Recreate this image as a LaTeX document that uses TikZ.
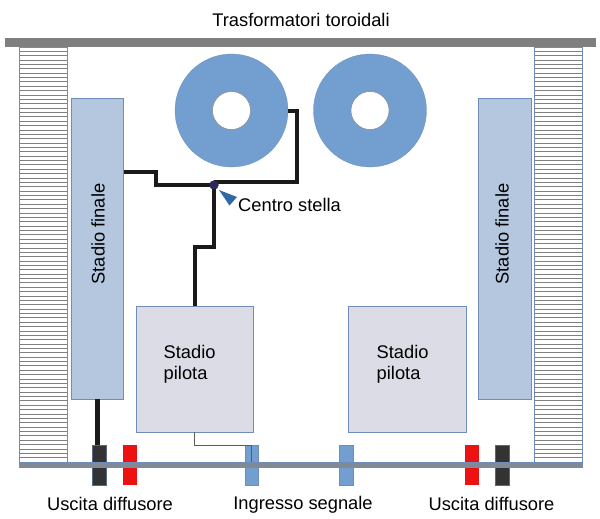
\documentclass[tikz,border=0pt]{standalone}
\usepackage{fontspec}
\setmainfont{Liberation Sans}
\definecolor{barg}{HTML}{7F7F7F}
\definecolor{edgeb}{HTML}{6F8DB8}
\definecolor{finalb}{HTML}{B4C7DE}
\definecolor{pilot}{HTML}{DCDCE6}
\definecolor{toro}{HTML}{729FCF}
\definecolor{wire}{HTML}{1A1A1A}
\definecolor{darkc}{HTML}{333333}
\definecolor{redc}{HTML}{EE1111}
\definecolor{arrowb}{HTML}{2F69A8}
\definecolor{rail}{HTML}{808A96}
\tikzset{
  x=1pt,y=-1pt,
  lab/.style={font=\fontsize{18.3}{21}\selectfont,text=black,inner sep=0pt},
  twolines/.style={lab,align=left,anchor=west,font=\fontsize{18.3}{21}\selectfont},
  thickwire/.style={draw=wire,line width=4.4pt,line join=miter},
  fin/.style={draw=black!50,line width=0.9pt},
  finalblock/.style={draw=edgeb,line width=0.7pt,fill=finalb,minimum height=301pt,inner sep=0pt,anchor=north west},
  pilotblock/.style={draw=edgeb,line width=0.7pt,fill=pilot,minimum height=126pt,inner sep=0pt,anchor=north west},
  ring/.style={circle,fill=toro,draw=edgeb,line width=0.3pt,minimum size=113pt,inner sep=0pt},
  hole/.style={circle,fill=white,draw=barg,line width=0.4pt,minimum size=38pt,inner sep=0pt},
  term/.style={minimum width=13.5pt,minimum height=40pt,inner sep=0pt,anchor=north west},
  darkterm/.style={term,fill=darkc,draw=edgeb!60!darkc,line width=0.4pt},
  redterm/.style={term,fill=redc},
  blueterm/.style={term,fill=toro,draw=edgeb,line width=0.4pt},
  stardot/.style={circle,fill=darkc!80!blue,minimum size=9pt,inner sep=0pt},
}
\begin{document}
\begin{tikzpicture}
\useasboundingbox (0,0) rectangle (600,519);
\fill[white] (0,0) rectangle (600,519);
% heat sinks
\foreach \xa/\xb in {19/67,534.5/582.5}{
  \foreach \i in {0,...,94}{
    \draw[fin] (\xa,{51.3+4.37*\i}) -- (\xb,{51.3+4.37*\i});
  }
  \draw[draw=edgeb,line width=0.8pt] (\xa,47) rectangle (\xb,464);
}
% top bar
\fill[barg] (5,38) rectangle (596,47);
% toroids
\node[ring] (t1) at (231.5,110.5) {};
\node[hole] (h1) at (231.5,110.5) {};
\node[ring] (t2) at (370,110.5) {};
\node[hole] (h2) at (370,110.5) {};
% blocks
\node[finalblock,minimum width=52pt] (f1) at (71,98) {};
\node[finalblock,minimum width=53pt] (f2) at (478,98) {};
\node[pilotblock,minimum width=117pt] (p1) at (136,306) {};
\node[pilotblock,minimum width=118pt] (p2) at (348,306) {};
% star centre
\node[stardot] (star) at (214,185) {};
\coordinate (a1) at (123.5,172);
\coordinate (a2) at (288,111);
\coordinate (a3) at (195,306);
\coordinate (a4) at (97.5,399);
\coordinate (a5) at (97.5,445);
\draw[thickwire] (a1) -- (156,172) -- (156,185) -- (star.center);
\draw[thickwire] (214,182) -- (297,182) -- (297,111) -- (a2);
\draw[thickwire] (star.center) -- (214,247) -- (195,247) -- (a3);
\draw[thickwire] (a4) -- (a5);
\node[stardot] at (star) {};
% terminals
\node[darkterm] (c1) at (92.3,445) {};
\node[redterm] (c2) at (123,445) {};
\node[blueterm] (c3) at (244.5,445) {};
\node[blueterm] (c4) at (339.3,445) {};
\node[redterm] (c5) at (465,445) {};
\node[darkterm] (c6) at (495.3,445) {};
% thin signal wire
\coordinate (s1) at (194.5,432);
\coordinate (s2) at (251,445);
\draw[draw=darkc!80,line width=0.6pt] (s1) |- (s2) -- (251,462);
% rail
\draw[draw=edgeb,line width=0.7pt,fill=rail] (19,462.5) rectangle (582.5,467);
% pointer
\fill[arrowb] (219,190) -- (237,197) -- (229.5,205.5) -- cycle;
% labels
\node[lab] (tt) at (301,19.5) {Trasformatori toroidali};
\node[lab,anchor=west] (cs) at (238,204.5) {Centro stella};
\node[lab,rotate=90] at (98,234) {Stadio finale};
\node[lab,rotate=90] at (502,234) {Stadio finale};
\node[twolines] at (163.5,364) {Stadio\\pilota};
\node[twolines] at (376.5,364) {Stadio\\pilota};
\node[lab] at (110,504) {Uscita diffusore};
\node[lab] at (303,504.5) {Ingresso segnale};
\node[lab] at (491.5,504) {Uscita diffusore};
\end{tikzpicture}
\end{document}
